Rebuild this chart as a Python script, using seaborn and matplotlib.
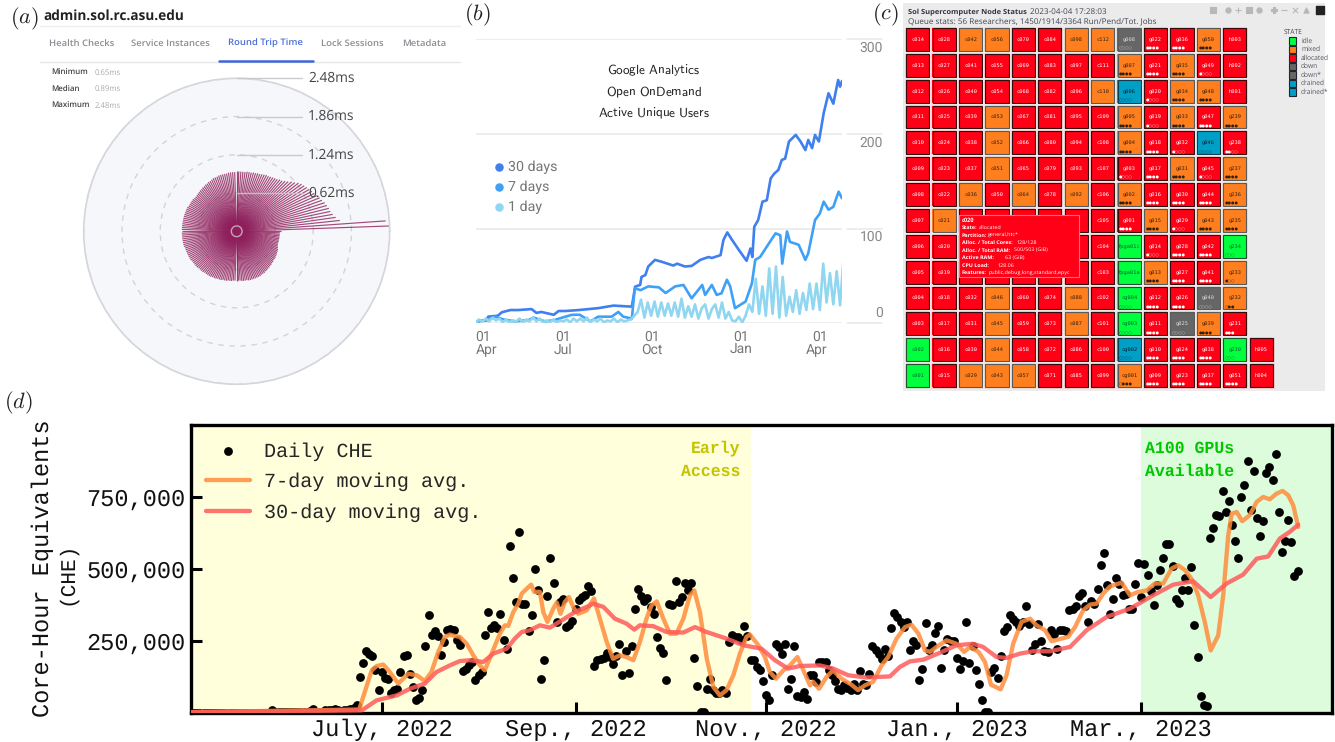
import numpy as np
import pandas as pd
import matplotlib
matplotlib.use("Agg")
import matplotlib.pyplot as plt
from matplotlib.colors import ListedColormap
from matplotlib.patches import Rectangle
import seaborn as sns

# ---------- panel (a): round trip time per peer angle (ms), every 2 degrees, counter-clockwise from east
rtt_ms = [
 0.72,2.48,2.42,1.68,1.62,1.58,1.55,1.54,1.52,1.50,1.47,1.45,1.42,1.40,1.38,1.36,1.34,1.32,1.30,1.27,
 1.23,1.20,1.16,1.13,1.10,1.09,1.07,1.06,1.05,1.04,1.03,1.03,1.02,1.01,1.00,1.00,0.99,0.99,0.98,0.98,
 0.98,0.97,0.97,0.97,0.97,0.97,0.96,0.96,0.96,0.96,0.95,0.95,0.95,0.95,0.95,0.94,0.94,0.94,0.93,0.92,
 0.92,0.91,0.91,0.90,0.90,0.89,0.89,0.88,0.88,0.87,0.87,0.87,0.88,0.88,0.88,0.88,0.88,0.89,0.89,0.89,
 0.89,0.89,0.89,0.89,0.89,0.89,0.89,0.89,0.89,0.89,0.89,0.89,0.89,0.89,0.89,0.89,0.89,0.89,0.89,0.88,
 0.88,0.88,0.88,0.88,0.88,0.88,0.88,0.87,0.87,0.87,0.87,0.87,0.86,0.86,0.86,0.86,0.85,0.85,0.85,0.85,
 0.85,0.84,0.84,0.84,0.83,0.83,0.83,0.82,0.82,0.82,0.81,0.81,0.81,0.80,0.80,0.80,0.80,0.80,0.81,0.81,
 0.81,0.81,0.82,0.82,0.82,0.82,0.82,0.82,0.82,0.82,0.81,0.81,0.81,0.80,0.80,0.79,0.79,0.78,0.78,0.77,
 0.77,0.76,0.76,0.76,0.75,0.75,0.74,0.74,0.73,0.72,0.71,0.70,0.70,0.70,0.70,0.70,0.70,0.70,0.70,0.70]
rtt_levels = [0.62, 1.24, 1.86, 2.48]
rtt_level_labels = ["0.62ms", "1.24ms", "1.86ms", "2.48ms"]
tabs = ["Health Checks", "Service Instances", "Round Trip Time", "Lock Sessions", "Metadata"]
rtt_stats = [("Minimum", "0.65ms"), ("Median", "0.89ms"), ("Maximum", "2.48ms")]

# ---------- panel (b): active unique users (days since 1 Apr 2022, users)
users30_day = [0,11,13,23,27,36,44,58,63,68,81,86,93,107,127,143,162,165.4,170.6,172,176,179,186,193,205,209,217,224,233,241.5,245,254,257,261,266,273,281,285,287,289,293,297.5,302,306,309.6,314,317.5,321,325,332,337,342,345,349,352,356,361,366,371,376,378,380]
users30_val = [2,3.5,7,8,11.6,14,14,15,11,12,9,13,13,14,16,18.7,17.6,38.7,40.5,49,51,60,67,65,61,63,60,60.6,67,70,69,72,88,96,88,77.5,66,79,70,102,109,128.5,130,153,158,162,172.5,174,192,199,192,183,193.7,185,199,192,222,243,232,257,250,256]
users7_day = [0,13,20,29,41,55,60,72,82,93,100,108,119,127,141,148,153,162,165,171,179,190,197,207,215.5,224,235,238,245,250,255,260.6,264,269,280,286.5,290,295,302,311,316,318,323,326,335,342,345,352,357,361,366,371,376.5,380]
users7_val = [2,3,7,4,2,3.5,6,2,3.5,7,9,9,2,7,7,12,7,5,37,35,39,38,32,39,40.5,26.4,40.5,30,40.5,30,31.7,46,39,16,23,42,67,70,81,95,93,63,97,86,83,67,74,109,116,128.5,120,123,139,132]
users1_val = [1,4,2,5,2,6,3,5,1,4,1,3,2,5,1,4,2,6,2,5,1,3,1,4,1,3,2,4,1,5,2,5,2,6,1,4,2,5,1,3,2,5,1,4,2,3,
 4,8,12,25,6,22,8,23,7,22,8,21,8,22,7,26,6,18,7,20,5,16,20,5,15,20,6,22,5,12,3,2,7,1,8,20,12,47,10,39,8,58,10,60,6,49,8,28,12,35,10,32,14,42,15,42,14,63,22,53,20,55,19,67]
users_ticks = ["2022-04-01", "2022-07-01", "2022-10-01", "2023-01-01", "2023-04-01"]
users_tick_labels = ["01\nApr", "01\nJul", "01\nOct", "01\nJan", "01\nApr"]
users_series = ["30 days", "7 days", "1 day"]

# ---------- panel (c): node status ("" = hidden behind the tooltip or empty slot)
col_names = [
 [f"c{n:03d}" for n in range(14, 0, -1)],
 [f"c{n:03d}" for n in range(28, 14, -1)],
 ["c042","c041","c040","c039","c038","c037","c036","","","","c032","c031","c030","c029"],
 ["c056","c055","c054","c053","c052","c051","c050","","","","c046","c045","c044","c043"],
 ["c070","c069","c068","c067","c066","c065","c064","","","","c060","c059","c058","c057"],
 ["c084","c083","c082","c081","c080","c079","c078","","","","c074","c073","c072","c071"],
 ["c098","c097","c096","c095","c094","c093","c092","","","","c088","c087","c086","c085"],
 [f"c{n:03d}" for n in range(112, 98, -1)],
 ["g008","g007","g006","g005","g004","g003","g002","g001","fpga01i","fpga01a","cg004","cg003","cg002","cg001"],
 [f"g{n:03d}" for n in range(22, 8, -1)],
 [f"g{n:03d}" for n in range(36, 22, -1)],
 [f"g{n:03d}" for n in range(50, 36, -1)],
 ["h003","h002","h001","g239","g238","g237","g236","g235","g234","g233","g232","g231","g230","g051"],
 ["","","","","","","","","","","","","h005","h004"],
]
col_states = ["RRRRRRRRRRRRGG", "RRRRRRRORRRRRR", "ORRRRRORRRRRRO", "ORROOORRRROOOO",
              "RRRRRRORRRRRRO", "RRRRRRRRRRRRRR", "ORRRRRORRROORR", "ORORRRRRRRRRRR",
              "DOTOORORGGGGTO", "RRRRRRRORORRRR", "ROOORORRRRRDRR", "ORORTRRORRDORR",
              "RRRORO" + "OOGOORGR", "............RR"]
col_dots = [
 [""]*14,[""]*14,[""]*14,[""]*14,[""]*14,[""]*14,[""]*14,[""]*14,
 ["○○○○","●●●●","○○○○","●●●●","●●●●","●○○○","●●●●","●●●●","","","○○○○","○○○○","○○○○","○●●●"],
 ["●●●●","●●●●","●○○○","●○○○","●●●●","●●●●","●●●●","●●●●","●○○○","●●●●","●●●●","●●●●","●●●●","●●●●"],
 ["●●●●","●●●●","●●●●","●●●●","●○○○","●●●●","●●●●","●○○○","●●●●","●●●●","●●●●","○○○○","●●●●","●●●●"],
 ["●●●●","●○○○","●●●●","●●●●","○○○○","●○○○","●●●●","●●●●","●●●●","●●●●","○○○○","●●●●","●●●●","●●●●"],
 ["","","","●●●●","●●○○","●●●●","●●●●","●●●●","○○○","●○○","○●●","●●●","○○○","●●●●"],
 [""]*14]
state_names = ["idle", "mixed", "allocated", "down", "down*", "drained", "drained*"]
state_codes = {"G": 0, "O": 1, "R": 2, "D": 3, "T": 4}
state_cols = ["#00ff3c", "#ff7f1e", "#ff0016", "#666666", "#009fc6"]
tooltip_rows = [("State:", "allocated"), ("Partition:", "general,htc*"), ("Alloc. / Total Cores:", "128/128"),
 ("Alloc. / Total RAM:", "500/503 (GiB)"), ("Active RAM:", "63 (GiB)"), ("CPU Load:", "128.06"),
 ("Features:", "public,debug,long,standard,epyc")]

# ---------- panel (d): core-hour equivalents, thousands; index = days since 1 May 2022
che_daily = [
 1,1,1,1,1,1,1,1,1,1, 1,1,1,1,1,1,1,1,1,1, 1,1,1,1,1,1,9,3,2,2, 2,2,2,3,3,3,4,5,8,14,
 3,3,4,9,9,11,14,12,8,11, 12,14,18,27,125,172,214,205,197,148, 79,142,121,119,69,79,84,143,197,200,
 136,90,46,53,81,231,341,272,283,267, 200,246,289,292,289,252,235,144,154,165, 177,113,133,142,272,350,296,304,296,344,
 252,223,578,469,385,628,379,377,286,339, 498,428,117,185,405,538,450,316,385,397, 298,304,318,362,391,402,410,440,423,163,
 183,188,191,209,194,171,197,240,133,214, 139,231,360,429,406,388,400,369,342,265, 225,208,116,379,373,457,385,402,451,428,
 451,190,94,3,3,82,117,79,69,69, 79,71,246,269,264,264,252,302,267,183, 183,160,148,111,61,45,131,240,229,205,
 238,83,119,232,58,55,73,50,131,133, 108,177,177,177,148,131,111,82,79,96, 87,81,102,79,144,102,98,134,232,217,
 206,188,221,197,294,348,333,316,298,316, 218,249,237,113,151,311,217,235,277,303, 156,217,258,249,249,191,154,180,316,175,
 232,150,102,45,3,3,142,157,123,197, 283,298,339,327,316,302,316,370,310,217, 240,310,249,215,212,287,275,223,288,287,
 283,356,362,370,405,417,371,316,387,379, 431,512,556,443,343,397,468,449,408,414, 362,362,446,521,402,516,477,423,373,445,
 495,539,587,587,509,394,381,425,469,425, 506,305,193,60,29,23,607,643,686,682, 770,697,736,651,598,536,748,790,873,703,
 839,676,612,665,833,853,809,899,698,558, 598,669,593,476,494]
che7_day = [0,53.8,55.6,57.8,59.4,61.5,63.6,66.3,69.5,72.2,74.8,76.9,79.1,81.2,82.8,84.4,86,88.2,90.3,92.4,94,96.2,98.8,100.4,101.5,103.1,104.7,105.8,107.4,108.8,109.8,111.6,112.7,114,115.9,117,118.2,119.6,120.9,122.5,123.9,126.6,128.9,130.8,133,135,137.2,139.3,141.5,143.6,145.7,147.3,149,151.1,153.2,155.3,157.5,159.6,161,162.8,165,167.1,169.2,171.3,173.5,175.6,177.7,178.8,181.5,183.6,185.2,187.1,189.5,191.6,194,195.9,198,199,200.9,203.3,205.4,208.1,211.3,213.4,215.6,218.2,220.9,223,225.7,228.4,230.5,232.7,234.8,236.4,238.5,241.7,244.9,247.3,249.2,251.9,254,255.9,259,260.9,263,265.7,268.4,270.5,273.2,275.3,278.5,280.6,282.8,285.4,287.6,289.7,291.8,294,297.7,300.4,303,305.7,308.3,311,313.7,315.8,318,320,322.2,324.3,326.2,328.6,330.2,331.8,332.9,334.5,336.3,338.7,340.9,343,345.1,347.3,349.2,351,352.6,354.2]
che7_val = [3,12,73,148,163,168,142,102,136,131,111,142,212,264,272,267,264,240,200,165,148,206,275,304,302,350,379,414,431,445,420,420,350,316,362,383,344,385,402,362,344,356,397,327,246,188,200,194,183,246,327,373,387,327,275,275,327,408,425,350,188,90,61,79,131,206,264,272,235,194,142,119,148,165,194,148,96,108,84,125,148,119,98,79,96,108,165,194,258,298,306,275,217,212,229,252,240,212,229,212,177,98,82,131,240,316,327,304,287,249,258,264,298,356,376,379,414,439,452,408,420,425,449,449,501,512,495,466,408,316,217,269,408,616,691,697,665,686,732,749,741,761,770,755,720,645]
che30_day = [0,54.6,59.4,65.8,70,74.8,78.5,82.8,86,89.2,93.5,96.7,101,103.6,105.8,108.4,111.6,114.8,118.6,122.8,126.6,128.7,131.9,135.6,139.3,141.8,143.6,147.9,152.1,157.5,161.2,164.9,171.3,176.7,182.5,186.8,191,194.8,201.2,205.4,210.2,216.1,223.6,226.8,230,234.3,239.6,244.9,250.2,253.4,257.7,260.9,265.2,269.4,274.8,281.2,286.5,292.9,300.4,307.8,314.2,320.6,326.2,331.3,336.6,340.9,344.6,348.3,351.5,354.2]
che30_val = [3,9,44,61,84,102,142,165,180,183,177,206,223,258,281,287,304,296,321,350,368,379,368,327,310,289,304,301,281,279,298,281,258,235,223,183,154,163,165,154,131,123,127,160,179,185,209,235,240,229,194,191,206,214,214,229,287,333,362,408,445,457,402,449,480,535,543,605,628,653]
che_ticks = ["2022-07-01", "2022-09-01", "2022-11-01", "2023-01-01", "2023-03-01"]
che_tick_labels = ["July, 2022", "Sep., 2022", "Nov., 2022", "Jan., 2023", "Mar., 2023"]
che_yticks = [0, 250000, 500000, 750000, 1000000]
che_ylabels = ["", "250,000", "500,000", "750,000", ""]

# ---------- figure
W, H = 1335, 742
MONO = "Liberation Mono"
sns.set_theme(style="white")
plt.rcParams["font.family"] = ["DejaVu Sans"]
plt.rcParams["mathtext.fontset"] = "cm"
plt.rcParams["text.hinting"] = "no_hinting"
fig = plt.figure(figsize=(W / 100, H / 100), dpi=100, facecolor="white")

def box(l, t, r, b, **kw):
    return fig.add_axes([l / W, 1 - b / H, (r - l) / W, (b - t) / H], **kw)

back = box(0, 0, W, H, zorder=-5)
back.set_xlim(0, W); back.set_ylim(H, 0); back.axis("off")
top = box(0, 0, W, H, zorder=20)
top.set_xlim(0, W); top.set_ylim(H, 0); top.axis("off"); top.patch.set_alpha(0)

for s, x, y in [("$(a)$", 24, 19), ("$(b)$", 477, 15), ("$(c)$", 885, 15), ("$(d)$", 18, 403)]:
    top.text(x, y, s, fontsize=16, ha="center", va="center", color="#222222")

# ----- panel (a)
ax_a = box(83.7, 78.3, 389.7, 384.3, projection="polar")
ax_a.set_facecolor("#f6f7fa")
theta = np.deg2rad(np.arange(len(rtt_ms)) * 2.0)
ax_a.vlines(theta, 0, rtt_ms, color="#8e1f5b", lw=0.85, alpha=0.8)
ax_a.set_ylim(0, 2.48)
ax_a.set_yticks(rtt_levels); ax_a.set_yticklabels([]); ax_a.set_xticks([])
ax_a.grid(True, axis="y", color="#d2d4da", ls=(0, (4, 4)), lw=1.0)
ax_a.spines["polar"].set_color("#d4d6dc"); ax_a.spines["polar"].set_linewidth(1.2)
ax_a.scatter([0], [0], s=60, facecolor="none", edgecolor="#c8a0b8", lw=1.0, zorder=5)
top.text(43.5, 16, "admin.sol.rc.asu.edu", fontsize=9.8, fontweight="bold", family="Open Sans", color="#222222", va="center")
top.plot([40, 460], [25.5, 25.5], color="#eceef0", lw=1)
top.plot([40, 460], [62, 62], color="#e6e8ec", lw=1)
for s, x in zip(tabs, [48.7, 131, 228, 321, 402]):
    sel = s == "Round Trip Time"
    top.text(x, 44, s, fontsize=6.8, family="Open Sans", fontweight="semibold",
             color="#4a6fd8" if sel else "#8a8d92", va="center")
top.plot([219, 313], [61, 61], color="#3f68d6", lw=1.8)
for (k, v), y in zip(rtt_stats, [73, 89, 106]):
    top.text(51, y, k, fontsize=5.7, family="Open Sans", fontweight="semibold", color="#444444", va="center")
    top.text(95, y, v, fontsize=5.6, family="Open Sans", color="#aaaaaa", va="center")
for lev, lab in zip(rtt_levels, rtt_level_labels):
    y = 231.3 - lev * 61.7
    top.plot([237, 302], [y, y], color="#c4c6cc", lw=1.0, alpha=0.9)
    top.text(308, y, lab, fontsize=9.9, family="Open Sans", color="#444444", va="center")

# ----- panel (b)
ax_b = box(475.7, 39.3, 842, 323.3)
base_b = pd.Timestamp("2022-04-01")
def b_dates(d):
    return base_b + pd.to_timedelta(np.asarray(d, dtype=float), unit="D")
for d, v, c in [(users30_day, users30_val, "#3f7ff0"),
                (users7_day, users7_val, "#3fa0f8"),
                (np.arange(len(users1_val)) * 3.5, users1_val, "#90d6f0")]:
    sns.lineplot(x=b_dates(d), y=v, color=c, lw=1.9, ax=ax_b, errorbar=None, legend=False)
ax_b.set_xlim(base_b, base_b + pd.Timedelta(days=380)); ax_b.set_ylim(0, 300)
ax_b.set_yticks([0, 100, 200, 300]); ax_b.set_yticklabels([])
ax_b.grid(True, axis="y", color="#e8e8e8", lw=1.1)
ax_b.set_xticks(pd.to_datetime(users_ticks)); ax_b.set_xticklabels(users_tick_labels, linespacing=1.0)
ax_b.tick_params(axis="x", length=4, width=0.8, color="#dddddd", labelsize=10, labelcolor="#777777", pad=1, direction="out")
ax_b.tick_params(axis="y", length=0)
for t in ax_b.get_xticklabels():
    t.set_family("Roboto")
ax_b.get_xticklabels()[0].set_ha("left")
ax_b.get_xticklabels()[-1].set_ha("right")
ax_b.set_xlabel(""); ax_b.set_ylabel("")
for s in ax_b.spines.values():
    s.set_visible(False)
for y, ylab, lab in [(39.3, 48, "300"), (134.3, 142.7, "200"), (229, 237, "100"), (323.3, 313, "0")]:
    top.plot([847, 882], [y, y], color="#e8e8e8", lw=1.1)
    top.text(883, ylab, lab, family="Roboto", fontsize=10, color="#888888", ha="right", va="center")
for s, y in zip(["Google\\ Analytics", "Open\\ OnDemand", "Active\\ Unique\\ Users"], [71, 92, 113]):
    top.text(654, y, "$\\mathsf{" + s + "}$", fontsize=9.5, ha="center", va="center", color="#222222")
for s, c, y in zip(users_series, ["#3f7ff0", "#3fa0f8", "#90d6f0"], [167, 187, 207]):
    top.scatter([498.5], [y], s=26, color=c)
    top.text(508, y, s, family="Roboto", fontsize=10.3, color="#757575", va="center")

# ----- panel (c)
back.add_patch(Rectangle((903, 3), 422, 388, color="#ebebeb", lw=0))
n_col = len(col_names)
state_grid = np.full((14, n_col), np.nan)
label_grid = np.empty((14, n_col), dtype=object)
for j in range(n_col):
    for i in range(14):
        state_grid[i, j] = state_codes.get(col_states[j][i], np.nan)
        label_grid[i, j] = col_names[j][i]
ax_c = box(904.5, 26.5, 1274.5, 388.5)
sns.heatmap(state_grid, ax=ax_c, cmap=ListedColormap(state_cols), vmin=-0.5, vmax=4.5, cbar=False,
            annot=label_grid, fmt="", annot_kws={"fontsize": 3.9, "family": "DejaVu Sans Mono"},
            xticklabels=False, yticklabels=False, linewidths=0)
ax_c.patch.set_alpha(0)
light = {0: "#063", 1: "#321", 2: "#fff", 3: "#ddd", 4: "#023"}
for t in ax_c.texts:
    x, y = t.get_position()
    t.set_color(light[int(state_grid[int(y), int(x)])])
for j in range(n_col):
    for i in range(14):
        if np.isnan(state_grid[i, j]):
            continue
        code = int(state_grid[i, j])
        ax_c.add_patch(Rectangle((j + 0.02, i + 0.02), 0.96, 0.96, fill=False, ec="#ebebeb", lw=1.3))
        ax_c.add_patch(Rectangle((j + 0.06, i + 0.06), 0.88, 0.88, fill=False,
                                 ec="#5a5a5a" if code in (1, 3) else "#3a0a0a" if code == 2 else "#205030" if code == 0 else "#104050", lw=0.8))
        if col_dots[j][i]:
            ax_c.text(j + 0.12, i + 0.85, col_dots[j][i], fontsize=2.9, color=light[code], va="center", family="DejaVu Sans")
top.text(908, 12, "Sol Supercomputer Node Status", fontsize=5.4, family="Open Sans", fontweight="bold", color="#333344", va="center")
top.text(1030, 12, "2023-04-04 17:28:03", fontsize=5.9, family="Open Sans", color="#444455", va="center")
top.text(908, 21, "Queue stats: 56 Researchers, 1450/1914/3364 Run/Pend/Tot. Jobs", fontsize=5.9, family="Open Sans", color="#444455", va="center")
top.text(1284, 32.5, "STATE", fontsize=4.8, family="Open Sans", color="#445", va="center")
legend_cols = ["#00ff3c", "#ff7f1e", "#ff0016", "#666666", "#666666", "#009fc6", "#009fc6"]
for nm, c, y in zip(state_names, legend_cols, [41, 49.5, 58, 66.5, 75, 83.5, 92]):
    top.add_patch(Rectangle((1288.5, y - 3.7), 7.4, 7.4, fc=c, ec="#223", lw=0.8))
    top.text(1301, y, nm, fontsize=4.8, family="Open Sans", color="#556", va="center")
for x, m in zip([1213, 1228, 1238, 1249, 1259, 1274, 1284, 1295, 1306], ["s", "o", "+", "s", "o", "P", "_", "x", "^"]):
    top.scatter([x], [10], s=14, marker=m, color="#b8b8b8", lw=0.8)
top.scatter([1320], [10], s=28, marker="s", color="#222222")
top.add_patch(Rectangle((959, 215), 120, 62, fc="#ff0016", ec="#ff6a78", lw=0.8))
top.text(961.7, 220.7, "c020", fontsize=4.1, family="Open Sans", fontweight="bold", color="white", va="center")
for (k, v), y, x in zip(tooltip_rows, [228, 235.3, 243, 250.3, 258, 265.3, 273],
                        [979, 988.3, 1016.7, 1014, 1005, 997.7, 988.7]):
    top.text(961.7, y, k, fontsize=3.9, family="Open Sans", fontweight="bold", color="white", va="center")
    top.text(x, y, v, fontsize=3.9, family="Open Sans", color="white", va="center")

# ----- panel (d)
ax_d = box(191, 424.6, 1332, 713)
base_d = pd.Timestamp("2022-05-01")
def d_dates(d):
    return base_d + pd.to_timedelta(np.asarray(d, dtype=float), unit="D")
ax_d.axvspan(base_d, pd.Timestamp("2022-10-27 05:00"), color="#ffffdc", lw=0, zorder=0)
ax_d.axvspan(pd.Timestamp("2023-03-01"), pd.Timestamp("2023-05-01"), color="#dcfcdc", lw=0, zorder=0)
sns.scatterplot(x=d_dates(np.arange(len(che_daily))), y=np.array(che_daily) * 1000.0, color="black", s=40,
                linewidth=0, ax=ax_d, label="Daily CHE", zorder=2)
sns.lineplot(x=d_dates(che7_day), y=np.array(che7_val) * 1000.0, color="#ff8c3c", alpha=0.85, lw=3.1,
             ax=ax_d, label="7-day moving avg.", errorbar=None, zorder=3)
sns.lineplot(x=d_dates(che30_day), y=np.array(che30_val) * 1000.0, color="#ff5a5a", alpha=0.85, lw=3.1,
             ax=ax_d, label="30-day moving avg.", errorbar=None, zorder=4)
ax_d.set_xlim(base_d, pd.Timestamp("2023-05-01")); ax_d.set_ylim(0, 1000000)
ax_d.set_xticks(pd.to_datetime(che_ticks)); ax_d.set_xticklabels(che_tick_labels)
ax_d.set_yticks(che_yticks); ax_d.set_yticklabels(che_ylabels)
ax_d.tick_params(direction="in", length=8, width=2.2, labelsize=17, pad=4, color="black", labelcolor="#111111", left=True, bottom=True)
for t in ax_d.get_xticklabels() + ax_d.get_yticklabels():
    t.set_family(MONO)
for s in ax_d.spines.values():
    s.set_color("black"); s.set_linewidth(2.4)
ax_d.set_xlabel(""); ax_d.set_ylabel("")
leg = ax_d.legend(loc="upper left", bbox_to_anchor=(0.0128, 0.94), frameon=False, borderpad=0, borderaxespad=0,
                  handlelength=2.2, handletextpad=0.7, labelspacing=0.6,
                  prop={"family": MONO, "size": 14.5})
top.text(43, 568, "Core-Hour Equivalents", rotation=90, family=MONO, fontsize=17, ha="center", va="center", color="#111111")
top.text(67, 573, "(CHE)", rotation=90, family=MONO, fontsize=15.2, ha="center", va="center", color="#111111")
for s, y in [("Early", 448), ("Access", 471)]:
    top.text(740, y, s, family=MONO, fontweight="bold", fontsize=11.9, color="#c4c400", ha="right", va="center")
for s, y in [("A100 GPUs", 448), ("Available", 471)]:
    top.text(1145, y, s, family=MONO, fontweight="bold", fontsize=11.9, color="#00c800", ha="left", va="center")

fig.savefig("out.png", dpi=100)
